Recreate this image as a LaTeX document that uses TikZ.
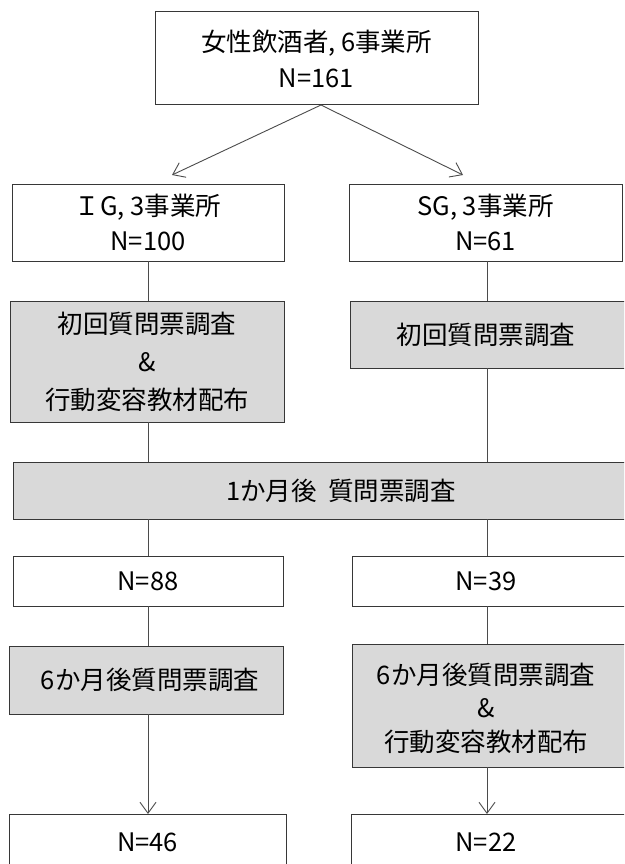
\documentclass[tikz,border=0pt]{standalone}
\usepackage{fontspec}
\setmainfont{Noto Sans CJK JP}
\usetikzlibrary{arrows.meta}
\definecolor{boxgray}{RGB}{217,217,217}
\definecolor{edgecol}{RGB}{55,55,55}
\definecolor{linecol}{RGB}{75,75,75}
\begin{document}
\begin{tikzpicture}[x=1pt,y=-1pt,
  every node/.style={inner sep=0pt, outer sep=0pt},
  wbox/.style={draw=edgecol, line width=1pt, fill=white, rectangle},
  gbox/.style={draw=edgecol, line width=1pt, fill=boxgray, rectangle},
  txt/.style={font=\fontsize{25.5}{36}\selectfont, align=center, text=black},
  conn/.style={draw=linecol, line width=0.9pt},
  arr/.style={conn, -{Straight Barb[length=11pt,width=16pt]}}]
\useasboundingbox (0,0) rectangle (624,864);
\clip (0,0) rectangle (624,864);

% top box
\node[wbox, txt, minimum width=323pt, minimum height=93pt] (top) at (316.5,58.5) {女性飲酒者, 6事業所\\N=161};

% group boxes
\node[wbox, txt, font=\fontsize{25.5}{35}\selectfont, minimum width=272pt, minimum height=77pt] (ig1) at (148,222.5) {ＩG, 3事業所\\N=100};
\node[wbox, txt, font=\fontsize{25.5}{35}\selectfont, minimum width=273pt, minimum height=77pt] (sg1) at (485.5,222.5) {SG, 3事業所\\N=61};

% first survey
\node[gbox, txt, font=\fontsize{25.5}{38}\selectfont, minimum width=274pt, minimum height=121pt] (ig2) at (147,361.5) {初回質問票調査\\\&\\行動変容教材配布};
\node[gbox, minimum width=280pt, minimum height=67pt] (sg2) at (490,334.5) {};
\node[txt] (sg2t) at (486,334.5) {初回質問票調査};

% one month
\node[gbox, txt, minimum width=656pt, minimum height=57pt] (m1) at (341,490.5) {1か月後\hspace{0.45em}質問票調査};

% N after one month
\node[wbox, txt, minimum width=270pt, minimum height=50pt] (ig3) at (148,581) {N=88};
\node[wbox, minimum width=278pt, minimum height=50pt] (sg3) at (491,581) {};
\node[txt] (sg3t) at (486,581) {N=39};

% six months
\node[gbox, txt, minimum width=274pt, minimum height=68pt] (ig4) at (146,680) {\hspace*{8pt}6か月後質問票調査};
\node[gbox, minimum width=278pt, minimum height=123pt] (sg4) at (491,705.5) {};
\node[txt, font=\fontsize{25.5}{33.5}\selectfont] (sg4t) at (486,708) {6か月後質問票調査\\\&\\行動変容教材配布};

% final N
\node[wbox, txt, minimum width=277pt, minimum height=56pt] (ig5) at (147.5,842) {N=46};
\node[wbox, minimum width=279pt, minimum height=56pt] (sg5) at (490.5,842) {};
\node[txt] (sg5t) at (486,842) {N=22};

% columns and arrow ends
\coordinate (cI) at (148,0);
\coordinate (cS) at (487,0);
\coordinate (tl) at (172,175);
\coordinate (tr) at (463,175);

\draw[arr] ([xshift=4.5pt]top.south) -- (tl);
\draw[arr] ([xshift=4.5pt]top.south) -- (tr);

\draw[conn] (cI |- ig1.south) -- (cI |- ig2.north);
\draw[conn] (cS |- sg1.south) -- (cS |- sg2.north);
\draw[conn] (cI |- ig2.south) -- (cI |- m1.north);
\draw[conn] (cS |- sg2.south) -- (cS |- m1.north);
\draw[conn] (cI |- m1.south) -- (cI |- ig3.north);
\draw[conn] (cS |- m1.south) -- (cS |- sg3.north);
\draw[conn] (cI |- ig3.south) -- (cI |- ig4.north);
\draw[conn] (cS |- sg3.south) -- (cS |- sg4.north);
\draw[arr] (cI |- ig4.south) -- (cI |- ig5.north);
\draw[arr] (cS |- sg4.south) -- (cS |- sg5.north);
\end{tikzpicture}
\end{document}
